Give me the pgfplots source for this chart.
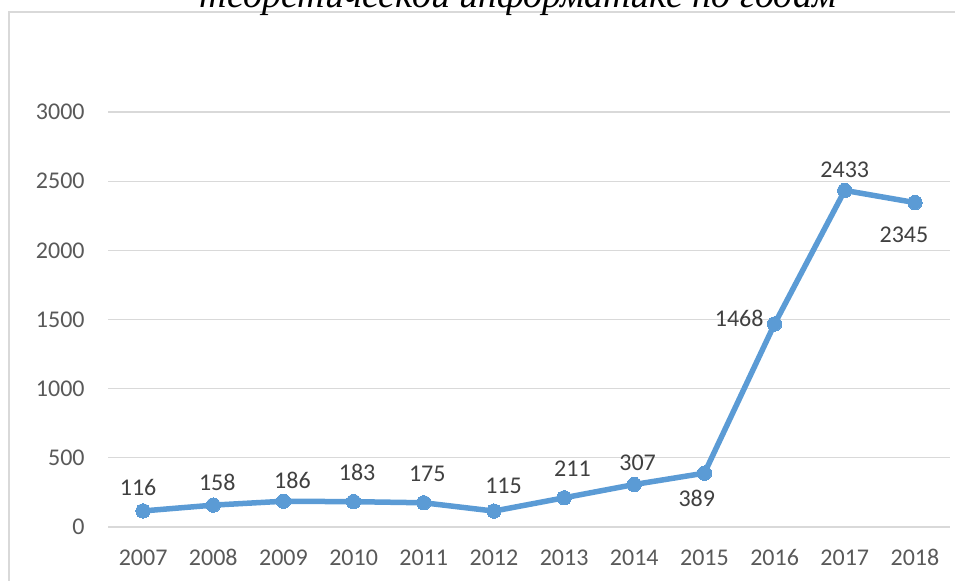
\documentclass[border=0pt]{standalone}
\usepackage{fontspec}
\setmainfont{Carlito}
\newfontfamily\titlefont{Liberation Serif}
\usepackage{pgfplots}
\usepackage{pgfplotstable}
\pgfplotsset{compat=1.18}
\definecolor{linec}{HTML}{5B9BD5}
\definecolor{gridc}{HTML}{D9D9D9}
\definecolor{framec}{HTML}{D9D9D9}
\definecolor{tickc}{HTML}{595959}
\definecolor{labc}{HTML}{404040}
\pgfplotstableread{
x y dx dy
0 116 -2.5 11.8
1 158 2 11.5
2 186 4.5 10.2
3 183 1.75 14.8
4 175 1.75 14.5
5 115 4.8 12.7
6 211 4.2 14.3
7 307 1.7 10.7
8 389 -3.8 -12.5
9 1468 -17.7 3
10 2433 0 10.5
11 2345 -5.5 -16
}\datatable
\begin{document}
\begin{tikzpicture}
\draw[color=framec, line width=0.75pt] (4.5pt,-10pt) rectangle (490pt,284.5pt);
\node[anchor=base, inner sep=0pt, font=\titlefont\itshape\fontsize{19}{22}\selectfont] at (259pt,286.5pt) {теоретической информатике по годам};
\begin{axis}[
  at={(54pt,27pt)}, anchor=south west,
  scale only axis, width=421pt, height=207.5pt,
  xmin=-0.5, xmax=11.5, ymin=0, ymax=3000,
  ytick={0,500,1000,1500,2000,2500,3000},
  xtick={0,1,2,3,4,5,6,7,8,9,10,11},
  xticklabels={2007,2008,2009,2010,2011,2012,2013,2014,2015,2016,2017,2018},
  axis line style={draw=none},
  major tick length=0pt,
  ymajorgrids,
  grid style={gridc, line width=0.65pt},
  tick label style={font=\fontsize{12}{14}\selectfont, text=tickc},
  yticklabel style={inner sep=0pt, anchor=east, xshift=-11.5pt},
  xticklabel style={inner sep=0pt, anchor=base, yshift=-19.5pt},
  /pgf/number format/assume math mode=true,
  /pgf/number format/set thousands separator={},
  clip=false,
]
\addplot[line width=2.75pt, color=linec, mark=*, mark size=3.6pt,
  mark options={line width=0pt, fill=linec},
  nodes near coords, point meta=explicit symbolic,
  visualization depends on={\thisrow{dx}\as\dx},
  visualization depends on={\thisrow{dy}\as\dy},
  every node near coord/.append style={anchor=center, inner sep=0pt,
    xshift=\dx pt, yshift=\dy pt, text=labc, font=\fontsize{12}{14}\selectfont},
] table[x=x, y=y, meta=y] {\datatable};
\end{axis}
\pgfresetboundingbox
\useasboundingbox (0,0) rectangle (477.5pt,290.5pt);
\end{tikzpicture}
\end{document}
